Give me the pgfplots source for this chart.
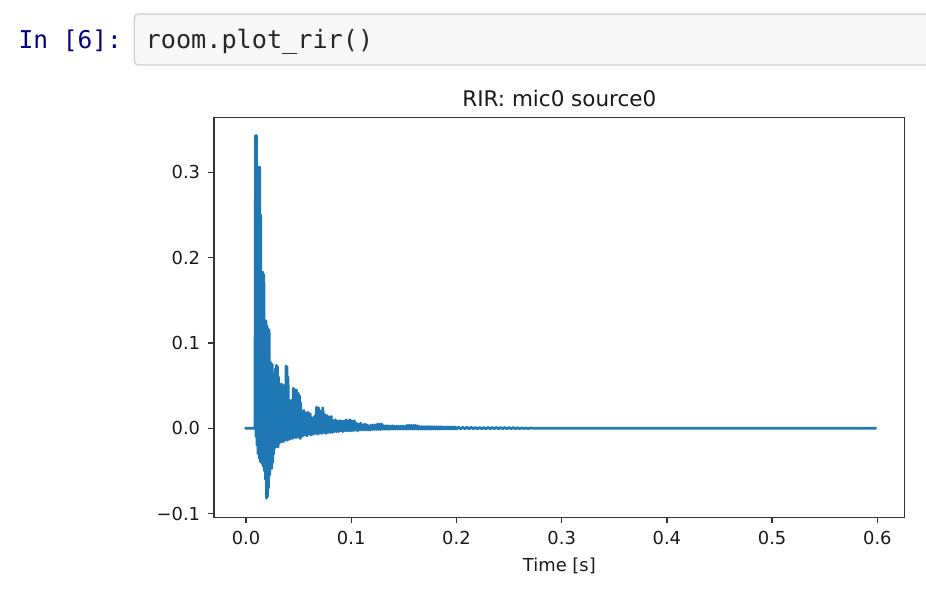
\documentclass[border=0pt]{standalone}
\usepackage{pgfplots}
\pgfplotsset{compat=1.18}
\usepackage{fontspec}
\setmainfont{DejaVu Sans}
\newfontfamily\codefont{DejaVu Sans Mono}
\definecolor{mplblue}{RGB}{31,119,180}
\definecolor{promptblue}{RGB}{0,0,128}
\definecolor{cellbg}{RGB}{247,247,247}
\definecolor{cellborder}{RGB}{207,207,207}
\begin{document}
\begin{tikzpicture}
\path[use as bounding box] (0,0) rectangle (926bp,596bp);
% notebook input cell
\draw[cellborder, fill=cellbg, line width=1.3bp, rounded corners=4bp] (134.3bp,582bp) rectangle (940bp,531bp);
\node[anchor=base west, inner sep=0pt, text=promptblue, font=\codefont\fontsize{24.5bp}{30bp}\selectfont] at (18.5bp,547.5bp) {In [6]:};
\node[anchor=base west, inner sep=0pt, text=black!85, font=\codefont\fontsize{25.2bp}{30bp}\selectfont] at (145.5bp,547.5bp) {room.plot\_rir()};
\begin{axis}[
  at={(214bp,78.7bp)}, anchor=south west,
  scale only axis, width=690.7bp, height=399.8bp,
  xmin=-0.0304, xmax=0.626, ymin=-0.1043, ymax=0.3642,
  xtick={0,0.1,0.2,0.3,0.4,0.5,0.6},
  xticklabels={0.0,0.1,0.2,0.3,0.4,0.5,0.6},
  ytick={-0.1,0,0.1,0.2,0.3},
  yticklabels={−0.1,0.0,0.1,0.2,0.3},
  tick align=outside, xtick pos=bottom, ytick pos=left,
  major tick length=6.2bp,
  every tick/.style={line width=1.4bp, black!80},
  axis line style={line width=1.4bp, black!80},
  tick label style={font=\fontsize{17.9bp}{21bp}\selectfont, text=black!90},
  xticklabel style={anchor=north, inner sep=0pt, yshift=-8bp},
  yticklabel style={anchor=east, inner sep=0pt, xshift=-7.5bp},
  title={RIR: mic0 source0},
  title style={at={(axis description cs:0.5,1)}, anchor=base, yshift=5.1bp, inner sep=0pt, font=\fontsize{21.5bp}{25bp}\selectfont, text=black!90},
  xlabel={Time [s]},
  xlabel style={at={(axis description cs:0.5,0)}, anchor=base, yshift=-53.7bp, inner sep=0pt, font=\fontsize{17.9bp}{21bp}\selectfont, text=black!90},
  clip=true,
]
% envelope of the dense early part, filled solid
\addplot[fill=mplblue, draw=none] coordinates {
(0.0088,0) (0.0088,0.343) (0.0102,0.343) (0.0105,0.306) (0.0132,0.306) (0.0140,0.25)
(0.0148,0.183) (0.0172,0.180) (0.0178,0.126) (0.0192,0.126) (0.0200,0.120) (0.0222,0.115)
(0.0228,0.078) (0.0252,0.075) (0.0260,0.060) (0.0270,0.064) (0.0285,0.074) (0.0302,0.072)
(0.0310,0.060) (0.0320,0.052) (0.0370,0.045) (0.0378,0.073) (0.0395,0.072) (0.0402,0.060)
(0.0408,0.033) (0.0445,0.032) (0.0450,0.047) (0.0462,0.046) (0.0470,0.040) (0.0480,0.045)
(0.0510,0.038) (0.0520,0.030) (0.0530,0.020) (0.0590,0.019) (0.0630,0.012) (0.0660,0.014)
(0.0670,0.025) (0.0690,0.024) (0.0710,0.020) (0.0730,0.024) (0.0750,0.016) (0.0810,0.014)
(0.0830,0.009) (0.0990,0.010) (0.1030,0.009) (0.1050,0.006) (0.1100,0.005) (0.118,0.003)
(0.118,-0.002) (0.104,-0.002) (0.090,-0.003) (0.083,-0.004) (0.074,-0.005) (0.066,-0.006)
(0.060,-0.007) (0.056,-0.008) (0.053,-0.009) (0.049,-0.010) (0.044,-0.012) (0.040,-0.012)
(0.0365,-0.014) (0.0345,-0.015) (0.032,-0.016) (0.0305,-0.022) (0.0285,-0.022) (0.027,-0.025)
(0.0265,-0.030) (0.0255,-0.040) (0.0245,-0.047) (0.0235,-0.047) (0.0225,-0.055) (0.0215,-0.070)
(0.0205,-0.080) (0.0195,-0.082) (0.0185,-0.060) (0.0175,-0.050) (0.0165,-0.045) (0.0155,-0.042)
(0.0145,-0.040) (0.0135,-0.039) (0.0125,-0.035) (0.0115,-0.030) (0.0105,-0.020) (0.0095,-0.010)
} --cycle;
\addplot[mplblue, line width=2.7bp, line join=round, line cap=rect] coordinates {
(0,0) (0.0085,0)
(0.0090,0.343) (0.0095,-0.010) (0.0100,0.343) (0.0105,-0.020) (0.0110,0.300) (0.0115,-0.030)
(0.0120,0.306) (0.0125,-0.035) (0.0130,0.306) (0.0135,-0.039) (0.0140,0.250) (0.0145,-0.040)
(0.0150,0.183) (0.0155,-0.042) (0.0160,0.183) (0.0165,-0.045) (0.0170,0.180) (0.0175,-0.050)
(0.0180,0.126) (0.0185,-0.060) (0.0190,0.126) (0.0195,-0.082) (0.0200,0.120) (0.0205,-0.080)
(0.0210,0.117) (0.0215,-0.070) (0.0220,0.115) (0.0225,-0.055) (0.0230,0.078) (0.0235,-0.047)
(0.0240,0.076) (0.0245,-0.047) (0.0250,0.075) (0.0255,-0.040) (0.0260,0.060) (0.0265,-0.030)
(0.0270,0.064) (0.0275,-0.022) (0.0280,0.070) (0.0285,-0.022) (0.0290,0.074) (0.0295,-0.020)
(0.0300,0.072) (0.0305,-0.022) (0.0310,0.060) (0.0315,-0.018) (0.0320,0.052) (0.0325,-0.016)
(0.0330,0.050) (0.0335,-0.016) (0.0340,0.052) (0.0345,-0.015) (0.0350,0.048) (0.0355,-0.016)
(0.0360,0.050) (0.0365,-0.014) (0.0370,0.045) (0.0375,-0.014) (0.0380,0.073) (0.0385,-0.013)
(0.0390,0.072) (0.0395,-0.014) (0.0400,0.060) (0.0405,-0.012) (0.0410,0.033) (0.0415,-0.013)
(0.0420,0.030) (0.0425,-0.012) (0.0430,0.033) (0.0435,-0.011) (0.0440,0.032) (0.0445,-0.012)
(0.0450,0.047) (0.0455,-0.011) (0.0460,0.046) (0.0465,-0.010) (0.0470,0.040) (0.0475,-0.011)
(0.0480,0.045) (0.0485,-0.010) (0.0490,0.042) (0.0495,-0.010) (0.0500,0.040) (0.0505,-0.011)
(0.0510,0.038) (0.0515,-0.012) (0.0520,0.030) (0.0525,-0.010)
(0.053,0.020) (0.054,-0.009) (0.055,0.021) (0.056,-0.008) (0.057,0.018) (0.058,-0.009)
(0.059,0.019) (0.060,-0.007) (0.061,0.017) (0.062,-0.008) (0.063,0.012) (0.064,-0.007)
(0.065,0.014) (0.066,-0.006) (0.067,0.025) (0.068,-0.007) (0.069,0.024) (0.070,-0.006)
(0.071,0.020) (0.072,-0.006) (0.073,0.024) (0.074,-0.005) (0.075,0.016) (0.076,-0.006)
(0.077,0.015) (0.078,-0.005) (0.079,0.012) (0.080,-0.005) (0.081,0.014) (0.082,-0.005)
(0.083,0.009) (0.084,-0.004) (0.085,0.010) (0.086,-0.004) (0.087,0.008) (0.088,-0.004)
(0.089,0.009) (0.090,-0.003) (0.091,0.008) (0.092,-0.004) (0.093,0.007) (0.094,-0.003)
(0.095,0.010) (0.096,-0.003) (0.097,0.009) (0.098,-0.003) (0.099,0.010) (0.100,-0.003)
(0.101,0.008) (0.102,-0.003) (0.103,0.009) (0.104,-0.002) (0.105,0.006) (0.106,-0.003)
(0.107,0.005) (0.108,-0.002) (0.109,0.006) (0.110,-0.002) (0.111,0.004) (0.112,-0.002)
(0.113,0.005) (0.114,-0.002) (0.115,0.004) (0.116,-0.002) (0.117,0.003) (0.118,-0.002)
(0.119,0.004) (0.120,-0.0015) (0.121,0.004) (0.122,-0.0015) (0.123,0.004) (0.124,-0.0015)
(0.125,0.005) (0.126,-0.0015) (0.127,0.005) (0.128,-0.0015) (0.129,0.005) (0.130,-0.0012)
(0.131,0.003) (0.132,-0.0012) (0.133,0.003) (0.134,-0.0012) (0.135,0.003) (0.136,-0.0012)
(0.137,0.0025) (0.138,-0.001) (0.139,0.003) (0.140,-0.001) (0.141,0.0025) (0.142,-0.001)
(0.143,0.0025) (0.144,-0.001) (0.145,0.0025) (0.146,-0.001) (0.147,0.0025) (0.148,-0.001)
(0.149,0.0025) (0.150,-0.001) (0.151,0.0025) (0.152,-0.001) (0.153,0.0035) (0.154,-0.001)
(0.155,0.0035) (0.156,-0.001) (0.157,0.0035) (0.158,-0.001) (0.159,0.0035) (0.160,-0.001)
(0.161,0.0035) (0.162,-0.001) (0.163,0.003) (0.164,-0.001) (0.165,0.002) (0.166,-0.001)
(0.167,0.002) (0.168,-0.001) (0.169,0.002) (0.170,-0.001) (0.171,0.002) (0.172,-0.001)
(0.173,0.002) (0.174,-0.001) (0.175,0.002) (0.176,-0.001) (0.177,0.0018) (0.178,-0.0008)
(0.179,0.0018) (0.180,-0.0008) (0.181,0.0018) (0.182,-0.0008) (0.183,0.0018) (0.184,-0.0008)
(0.185,0.0018) (0.186,-0.0008) (0.187,0.0016) (0.188,-0.0008) (0.189,0.0016) (0.190,-0.0008)
(0.191,0.0016) (0.192,-0.0008) (0.193,0.0016) (0.194,-0.0008) (0.195,0.0015) (0.196,-0.0008)
(0.197,0.0015) (0.198,-0.0008) (0.199,0.0015) (0.200,-0.0008) (0.202,0.0012) (0.204,-0.0006)
(0.206,0.0012) (0.208,-0.0006) (0.210,0.0012) (0.212,-0.0006) (0.214,0.0012) (0.216,-0.0006)
(0.218,0.0010) (0.220,-0.0006) (0.222,0.0010) (0.224,-0.0006) (0.226,0.0010) (0.228,-0.0006)
(0.230,0.0010) (0.232,-0.0005) (0.234,0.0010) (0.236,-0.0005) (0.238,0.0010) (0.240,-0.0005)
(0.242,0.0008) (0.244,-0.0005) (0.246,0.0010) (0.248,-0.0005) (0.250,0.0010) (0.252,-0.0005)
(0.254,0.0008) (0.256,-0.0004) (0.258,0.0006) (0.260,-0.0004) (0.262,0.0005) (0.264,-0.0003)
(0.266,0.0004) (0.268,-0.0003) (0.270,0.0003) (0.275,0) (0.598,0)
};
\end{axis}
\end{tikzpicture}
\end{document}
